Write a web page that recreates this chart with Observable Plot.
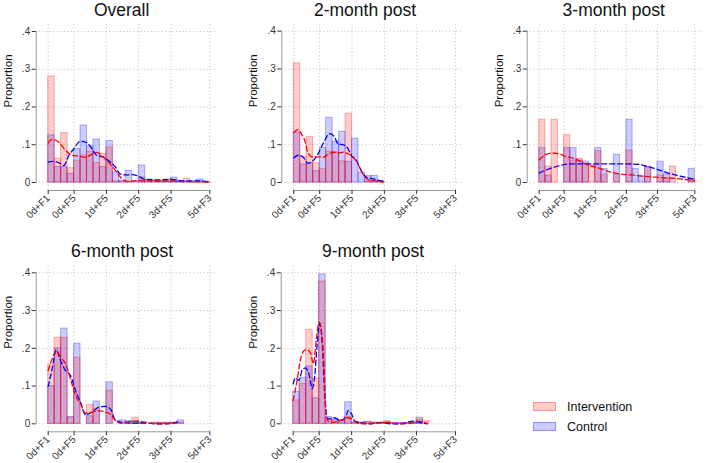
<!DOCTYPE html>
<html>
<head>
<meta charset="utf-8">
<script src="https://cdn.jsdelivr.net/npm/d3@7"></script>
<script src="https://cdn.jsdelivr.net/npm/@observablehq/plot@0.6"></script>
<style>
  body { margin: 0; background: #fff; font-family: "Liberation Sans", Arial, sans-serif; }
  #chart { position: relative; width: 708px; height: 463px; overflow: hidden; background: #fff; }
  .panel { position: absolute; }
  .title { position: absolute; font-size: 17.5px; line-height: 1; color: #111; white-space: nowrap; transform: translateX(-50%); }
  .legend { position: absolute; left: 533px; top: 396.5px; font-size: 12.5px; color: #111; }
  .legend .row { display: flex; align-items: center; height: 20px; }
  .legend .sw { width: 23px; height: 9.5px; margin-right: 11px; box-sizing: border-box; }
</style>
</head>
<body>
<div id="chart"></div>
<script>
// ---------- data ----------
const bins = [1,2,3,4,5,6,7,8,9,10,11,12,13,14,15,16,17,18,19,20,21,22,23,24,25];
const xTickValues = [1, 5, 10, 15, 20, 26];
const xTickLabels = ["0d+F1", "0d+F5", "1d+F5", "2d+F5", "3d+F5", "5d+F3"];
const yTickValues = [0, 0.1, 0.2, 0.3, 0.4];
const yTickLabels = ["0", ".1", ".2", ".3", ".4"];
const panelTitles = ["Overall", "2-month post", "3-month post", "6-month post", "9-month post"];
const seriesNames = ["Intervention", "Control"];
const yAxisTitle = "Proportion";

const overallIntervention = [0.281,0.063,0.131,0.038,0.058,0.072,0.081,0.052,0.076,0.093,0.003,0.002,0.002,0,0.014,0.005,0.005,0.004,0.003,0.005,0.003,0.010,0.002,0.002,0.001];
const overallControl      = [0.125,0.041,0.041,0.023,0.089,0.151,0.096,0.114,0.041,0.110,0.027,0.005,0.031,0.002,0.045,0.008,0.004,0.003,0.008,0.013,0.003,0.002,0.002,0.008,0.002];
const m2Intervention = [0.315,0.068,0.120,0.051,0.036,0.082,0.080,0.056,0.182,0,0,0.003,0.003,0.003,0,0,0,0,0,0,0,0,0,0,0];
const m2Control      = [0.132,0.048,0.052,0.030,0.091,0.171,0.108,0.134,0.055,0.116,0.026,0.017,0.018,0.002,0,0,0,0,0,0,0,0,0,0,0];
const m3Intervention = [0.166,0.042,0.166,0,0.125,0.058,0.063,0.049,0.045,0.083,0.021,0,0.021,0,0.085,0,0,0.042,0,0.018,0.010,0.042,0,0,0.010];
const m3Control      = [0.091,0.018,0,0,0.091,0.091,0.058,0.055,0,0.091,0.036,0,0.073,0,0.166,0.036,0.016,0.040,0,0.055,0.021,0,0,0,0.036];
const m6Intervention = [0.157,0.228,0.228,0.016,0.175,0,0.050,0.040,0,0.088,0,0,0,0.016,0.002,0,0.003,0.003,0.003,0.003,0.003,0,0,0,0];
const m6Control      = [0.100,0.200,0.252,0.018,0.212,0,0.020,0.059,0,0.110,0,0.009,0.007,0.006,0.003,0,0.002,0.002,0.002,0.002,0.009,0,0,0,0];
const m9Intervention = [0.062,0.106,0.249,0.120,0.377,0.011,0.009,0.010,0.018,0.003,0.003,0.005,0.003,0.003,0.007,0.002,0.002,0.002,0.003,0.011,0.007,0,0,0,0];
const m9Control      = [0.085,0.122,0.152,0.068,0.396,0.018,0.011,0.008,0.057,0.004,0.003,0.005,0.003,0.002,0.004,0.002,0.002,0.002,0.003,0.016,0,0,0,0,0];

// density curves: [position, density]
const overallInterventionCurve = [[1,0.105],[1.6,0.114],[2.6,0.107],[3.7,0.085],[4.7,0.072],[5.7,0.070],[6.7,0.067],[7.8,0.075],[8.5,0.080],[9.3,0.070],[10.3,0.054],[11.4,0.032],[12.4,0.010],[13.4,0.003],[14.9,0.005],[17,0.004],[19.1,0.004],[21.1,0.003],[24.2,0.002],[26,0.001]];
const overallControlCurve = [[1,0.054],[1.9,0.056],[2.9,0.050],[3.4,0.045],[4.2,0.072],[4.95,0.089],[5.97,0.109],[7,0.105],[7.8,0.089],[8.5,0.072],[9.6,0.067],[10.3,0.058],[11.4,0.041],[12.1,0.023],[13.2,0.020],[14,0.021],[14.9,0.017],[16,0.008],[18,0.007],[20.1,0.008],[22.1,0.004],[24.2,0.004],[26,0.002]];
const m2InterventionCurve = [[1,0.133],[1.67,0.140],[2.19,0.128],[2.7,0.111],[3.2,0.078],[4,0.067],[4.76,0.068],[5.5,0.067],[6.3,0.074],[7.1,0.080],[7.9,0.078],[8.6,0.080],[9.4,0.076],[10.2,0.067],[10.9,0.049],[11.7,0.023],[12.5,0.007],[13.3,0.005],[14.8,0.001]];
const m2ControlCurve = [[1,0.065],[1.67,0.072],[2.45,0.067],[3.2,0.051],[4,0.058],[4.76,0.076],[5.5,0.102],[6.57,0.129],[7.3,0.120],[7.85,0.102],[8.6,0.100],[9.4,0.089],[9.9,0.071],[10.7,0.058],[11.4,0.032],[12.2,0.014],[13.2,0.010],[14.8,0.003]];
const m3InterventionCurve = [[1,0.060],[2,0.073],[3.1,0.078],[4.2,0.076],[5.2,0.069],[6.3,0.065],[7.4,0.058],[8.4,0.049],[9.5,0.043],[10.6,0.038],[11.6,0.032],[13.2,0.025],[14.9,0.021],[16.5,0.019],[18.1,0.016],[19.7,0.014],[21.8,0.012],[23.9,0.009],[26,0.005]];
const m3ControlCurve = [[1,0.025],[2.6,0.036],[4.2,0.044],[5.8,0.049],[8.9,0.049],[11,0.049],[13.2,0.049],[15.3,0.049],[16.9,0.048],[18.5,0.042],[20.1,0.034],[21.7,0.025],[23.3,0.018],[24.9,0.012],[26,0.007]];
const m6InterventionCurve = [[1,0.141],[1.62,0.172],[2.24,0.193],[2.9,0.177],[3.68,0.159],[4.45,0.119],[5.23,0.075],[6,0.053],[6.77,0.028],[7.8,0.031],[8.8,0.035],[9.87,0.031],[10.64,0.025],[11.4,0.009],[12.2,0.002],[13.5,0.006],[15,0.007],[16.05,0.004],[17.6,0],[19.1,0],[20.7,0.002]];
const m6ControlCurve = [[1,0.099],[1.62,0.146],[2.24,0.196],[2.9,0.168],[3.68,0.141],[4.45,0.128],[5.23,0.088],[6,0.057],[6.77,0.024],[7.8,0.031],[8.8,0.044],[9.87,0.046],[10.64,0.039],[11.4,0.009],[12.4,0.004],[14,0.002],[16.05,0.002],[18.1,0],[20.2,0.002],[21.2,0.006]];
const m9InterventionCurve = [[1,0.062],[1.6,0.115],[2.1,0.168],[2.65,0.194],[3.16,0.196],[3.7,0.186],[4.1,0.159],[4.6,0.230],[5,0.269],[5.3,0.252],[5.74,0.159],[6.05,0.035],[6.36,0.007],[7.3,0.004],[8.3,0.009],[9.35,0.016],[10.1,0.013],[10.9,0.002],[12.4,0],[14,0.002],[15.5,0.004],[17.1,0],[19.1,0.001],[20.2,0.007],[21.2,0.004],[21.7,0]];
const m9ControlCurve = [[1,0.106],[1.36,0.122],[1.88,0.115],[2.4,0.143],[2.9,0.148],[3.4,0.133],[3.94,0.093],[4.3,0.124],[4.7,0.212],[5.07,0.265],[5.48,0.212],[5.85,0.080],[6.26,0.013],[7.3,0.016],[8.3,0.009],[9.1,0.018],[9.45,0.035],[9.97,0.027],[10.5,0.007],[11.4,0.003],[13,0],[14.5,0.004],[16.1,0],[17.6,0],[19.4,0.007],[20.4,0.004],[21.5,0]];

// ---------- layout (pixels) ----------
const panels = [
  {title: panelTitles[0], red: overallIntervention, blue: overallControl, redCurve: overallInterventionCurve, blueCurve: overallControlCurve,
   box: [0, 0, 236, 231], x1px: 47.7, x26px: 209.3, y0px: 182, y4px: 31, titleX: 121.6, titleTop: 1.5},
  {title: panelTitles[1], red: m2Intervention, blue: m2Control, redCurve: m2InterventionCurve, blueCurve: m2ControlCurve,
   box: [236, 0, 236, 231], x1px: 293.3, x26px: 455, y0px: 182, y4px: 30.7, titleX: 365, titleTop: 1.5},
  {title: panelTitles[2], red: m3Intervention, blue: m3Control, redCurve: m3InterventionCurve, blueCurve: m3ControlCurve,
   box: [472, 0, 236, 231], x1px: 538.7, x26px: 694.3, y0px: 182, y4px: 30.7, titleX: 613.7, titleTop: 1.5},
  {title: panelTitles[3], red: m6Intervention, blue: m6Control, redCurve: m6InterventionCurve, blueCurve: m6ControlCurve,
   box: [0, 231, 236, 232], x1px: 47.7, x26px: 209.3, y0px: 423.3, y4px: 272.3, titleX: 122, titleTop: 242.5},
  {title: panelTitles[4], red: m9Intervention, blue: m9Control, redCurve: m9InterventionCurve, blueCurve: m9ControlCurve,
   box: [236, 231, 236, 232], x1px: 292.7, x26px: 455, y0px: 423.3, y4px: 272.3, titleX: 373, titleTop: 242.5}
];

const RED = "#ff0000", BLUE = "#0000ff";
const chart = document.getElementById("chart");

function rows(values) {
  return bins.map((b, i) => ({x1: b, x2: b + 1, v: values[i]})).filter(d => d.v > 0);
}

for (const p of panels) {
  const [L, T, W, H] = p.box;
  const kx = (p.x26px - p.x1px) / 25;
  const ky = (p.y0px - p.y4px) / 0.4;
  const frameL = p.x1px - 12, frameR = p.x26px + 7.7;
  const frameT = p.y4px - 7, frameB = p.y0px + 8;
  const xDomain = [1 - (p.x1px - frameL) / kx, 26 + (frameR - p.x26px) / kx];
  const yDomain = [-(frameB - p.y0px) / ky, 0.4 + (p.y4px - frameT) / ky];

  const svg = Plot.plot({
    width: W, height: H,
    marginLeft: frameL - L, marginRight: W - (frameR - L),
    marginTop: frameT - T, marginBottom: H - (frameB - T),
    style: {background: "transparent", overflow: "visible", fontFamily: "'Liberation Sans', Arial, sans-serif"},
    x: {type: "linear", domain: xDomain},
    y: {type: "linear", domain: yDomain},
    marks: [
      Plot.gridY(yTickValues, {stroke: "#bdbdbd", strokeOpacity: 1, strokeDasharray: "1,2.5"}),
      Plot.gridX(xTickValues, {stroke: "#bdbdbd", strokeOpacity: 1, strokeDasharray: "1,2.5"}),
      Plot.rectY(rows(p.blue), {x1: "x1", x2: "x2", y: "v", fill: BLUE, fillOpacity: 0.2, stroke: BLUE, strokeOpacity: 0.3, strokeWidth: 1}),
      Plot.rectY(rows(p.red), {x1: "x1", x2: "x2", y: "v", fill: RED, fillOpacity: 0.2, stroke: RED, strokeOpacity: 0.3, strokeWidth: 1}),
      Plot.line(p.blueCurve, {curve: "monotone-x", stroke: BLUE, strokeWidth: 1.3, strokeDasharray: "5,3"}),
      Plot.line(p.redCurve, {curve: "monotone-x", stroke: RED, strokeWidth: 1.3, strokeDasharray: "5,3"}),
      Plot.ruleX([xDomain[0]], {y1: yTickValues[0], y2: yTickValues[yTickValues.length - 1], stroke: "#999"}),
      Plot.ruleY([yDomain[0]], {x1: xTickValues[0], x2: xTickValues[xTickValues.length - 1], stroke: "#999"}),
      Plot.axisY(yTickValues, {anchor: "left", tickSize: 4, tickPadding: 2, fontSize: 10, color: "#333", label: null,
        tickFormat: d => yTickLabels[yTickValues.indexOf(d)]}),
      Plot.axisX(xTickValues, {anchor: "bottom", tickSize: 4, tickPadding: 2, fontSize: 10, color: "#333", label: null, tickRotate: -45,
        tickFormat: d => xTickLabels[xTickValues.indexOf(d)]}),
      Plot.text([yAxisTitle], {text: d => d, frameAnchor: "left", rotate: -90, dx: -28, fontSize: 11.5, fill: "#111"})
    ]
  });
  const div = document.createElement("div");
  div.className = "panel";
  div.style.left = L + "px"; div.style.top = T + "px";
  div.appendChild(svg);
  chart.appendChild(div);

  const t = document.createElement("div");
  t.className = "title";
  t.style.left = p.titleX + "px"; t.style.top = p.titleTop + "px";
  t.textContent = p.title;
  chart.appendChild(t);
}

// legend
const legend = document.createElement("div");
legend.className = "legend";
[[seriesNames[0], RED], [seriesNames[1], BLUE]].forEach(([name, c]) => {
  const row = document.createElement("div");
  row.className = "row";
  const sw = document.createElement("div");
  sw.className = "sw";
  sw.style.background = c === RED ? "rgba(255,0,0,0.2)" : "rgba(0,0,255,0.2)";
  sw.style.border = "1px solid " + (c === RED ? "rgba(255,0,0,0.3)" : "rgba(0,0,255,0.3)");
  const label = document.createElement("span");
  label.textContent = name;
  row.appendChild(sw); row.appendChild(label);
  legend.appendChild(row);
});
chart.appendChild(legend);
</script>
</body>
</html>
